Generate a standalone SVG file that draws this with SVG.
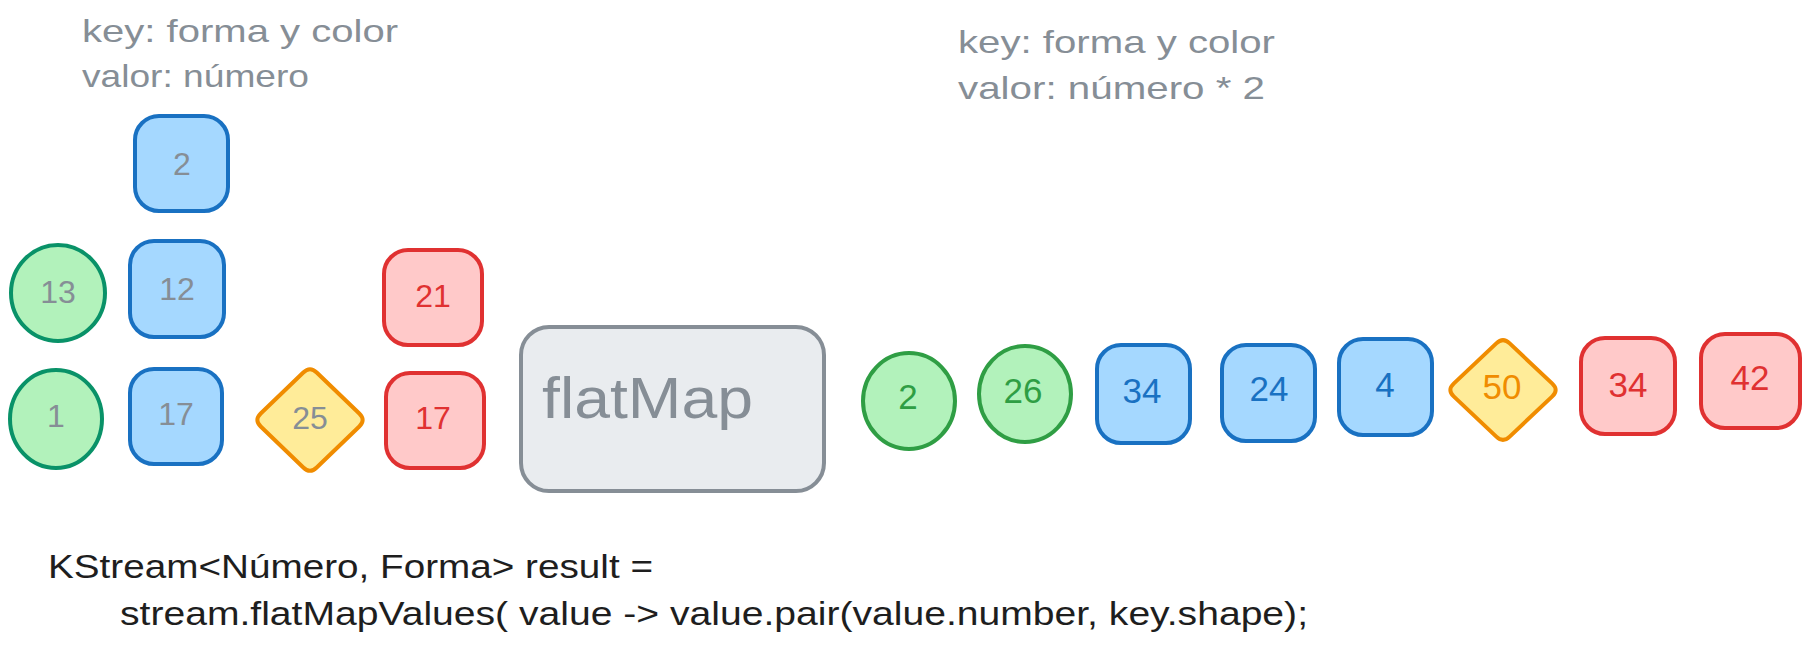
<svg xmlns="http://www.w3.org/2000/svg" width="1820" height="645" viewBox="0 0 1820 645">
<style>
text{font-family:"Liberation Sans",Arial,sans-serif}
.note{font-size:32px;fill:#868e96}
.code{font-size:33px;fill:#1e1e1e}
.num{font-size:32px;text-anchor:middle}
.numr{font-size:35px;text-anchor:middle}
.sh{stroke-width:4;stroke-linejoin:round}
.green{fill:#b2f2bb;stroke:#099268}
.green2{fill:#b2f2bb;stroke:#2f9e44}
.blue{fill:#a5d8ff;stroke:#1971c2}
.red{fill:#ffc9c9;stroke:#e03131}
.yellow{fill:#ffec99;stroke:#f08c00}
.gray{fill:#868e96}
.tg{fill:#2f9e44}
.tb{fill:#1971c2}
.tr{fill:#e03131}
.to{fill:#f08c00}
</style>
<rect width="1820" height="645" fill="#ffffff"/>
<g id="note-left">
<text class="note" x="82" y="42" textLength="316" lengthAdjust="spacingAndGlyphs">key: forma y color</text>
<text class="note" x="82" y="87" textLength="227" lengthAdjust="spacingAndGlyphs">valor: número</text>
</g>
<g id="note-right">
<text class="note" x="958" y="53" textLength="317" lengthAdjust="spacingAndGlyphs">key: forma y color</text>
<text class="note" x="958" y="99" textLength="307" lengthAdjust="spacingAndGlyphs">valor: número * 2</text>
</g>
<g id="in-blue-2"><rect class="sh blue" x="135" y="116" width="93" height="95" rx="24"/><text class="num gray" x="182" y="175">2</text></g>
<g id="in-blue-12"><rect class="sh blue" x="130" y="241" width="94" height="96" rx="24"/><text class="num gray" x="177" y="300">12</text></g>
<g id="in-blue-17"><rect class="sh blue" x="130" y="369" width="92" height="95" rx="24"/><text class="num gray" x="176" y="425">17</text></g>
<g id="in-green-13"><ellipse class="sh green" cx="58" cy="293" rx="47" ry="48"/><text class="num gray" x="58" y="303">13</text></g>
<g id="in-green-1"><ellipse class="sh green" cx="56" cy="419" rx="46" ry="49"/><text class="num gray" x="56" y="427">1</text></g>
<g id="in-yellow-25"><path class="sh yellow" d="M 260.7,413.5 L 303.3,372.5 Q 310,366 316.7,372.5 L 359.3,413.5 Q 366,420 359.3,426.5 L 316.7,467.5 Q 310,474 303.3,467.5 L 260.7,426.5 Q 254,420 260.7,413.5 Z"/><text class="num gray" x="310" y="429">25</text></g>
<g id="in-red-21"><rect class="sh red" x="384" y="250" width="98" height="95" rx="24"/><text class="num tr" x="433" y="307">21</text></g>
<g id="in-red-17"><rect class="sh red" x="386" y="373" width="98" height="95" rx="24"/><text class="num tr" x="433" y="429">17</text></g>
<g id="flatmap"><rect x="521" y="327" width="303" height="164" rx="28" fill="#e9ecef" stroke="#868e96" stroke-width="4"/><text x="542" y="418" font-size="58" class="gray" textLength="211" lengthAdjust="spacingAndGlyphs">flatMap</text></g>
<g id="out-green-2"><ellipse class="sh green2" cx="909" cy="401" rx="46" ry="48"/><text class="numr tg" x="908" y="409">2</text></g>
<g id="out-green-26"><ellipse class="sh green2" cx="1025" cy="394" rx="46" ry="48"/><text class="numr tg" x="1023" y="403">26</text></g>
<g id="out-blue-34"><rect class="sh blue" x="1097" y="345" width="93" height="98" rx="24"/><text class="numr tb" x="1142" y="403">34</text></g>
<g id="out-blue-24"><rect class="sh blue" x="1222" y="345" width="93" height="96" rx="24"/><text class="numr tb" x="1269" y="401">24</text></g>
<g id="out-blue-4"><rect class="sh blue" x="1339" y="339" width="93" height="96" rx="24"/><text class="numr tb" x="1385" y="397">4</text></g>
<g id="out-yellow-50"><path class="sh yellow" d="M 1453.7,383.6 L 1496.3,343.4 Q 1503,337 1509.7,343.4 L 1552.3,383.6 Q 1559,390 1552.3,396.4 L 1509.7,436.6 Q 1503,443 1496.3,436.6 L 1453.7,396.4 Q 1447,390 1453.7,383.6 Z"/><text class="numr to" x="1502" y="399">50</text></g>
<g id="out-red-34"><rect class="sh red" x="1581" y="338" width="94" height="96" rx="24"/><text class="numr tr" x="1628" y="397">34</text></g>
<g id="out-red-42"><rect class="sh red" x="1701" y="334" width="99" height="94" rx="24"/><text class="numr tr" x="1750" y="390">42</text></g>
<g id="connectors"/>
<g id="code">
<text class="code" x="48" y="578" textLength="605" lengthAdjust="spacingAndGlyphs">KStream&lt;Número, Forma&gt; result =</text>
<text class="code" x="120" y="625" textLength="1188" lengthAdjust="spacingAndGlyphs">stream.flatMapValues( value -&gt; value.pair(value.number, key.shape);</text>
</g>
</svg>
